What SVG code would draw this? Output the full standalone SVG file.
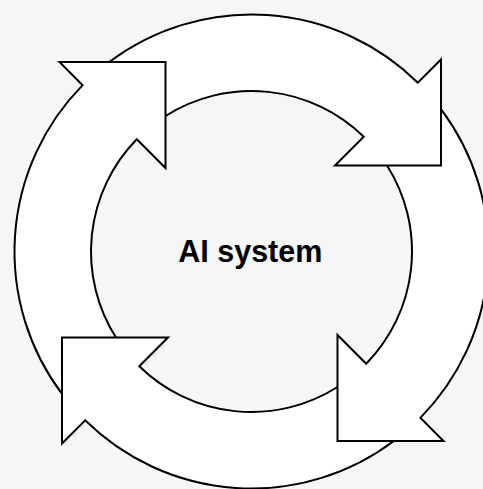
<svg xmlns="http://www.w3.org/2000/svg" width="483" height="489" viewBox="0 0 483 489">
  <style>
    .bg { fill: #f6f6f6; }
    .ring { fill: #ffffff; fill-rule: evenodd; stroke: none; }
    .head { fill: #ffffff; stroke: none; }
    .outline { fill: none; stroke: #000000; stroke-width: 2; stroke-linejoin: miter; }
    .label { font-family: "Liberation Sans", Arial, Helvetica, sans-serif; font-weight: bold; font-size: 30.5px; fill: #000000; }
  </style>
  <rect class="bg" x="0" y="0" width="483" height="489"/>
  <g id="ring-fill">
    <path class="ring" d="M14.5,251.5 A237,237 0 1 0 488.5,251.5 A237,237 0 1 0 14.5,251.5 Z M91,251.5 A160.5,160.5 0 1 0 412,251.5 A160.5,160.5 0 1 0 91,251.5 Z"/>
  </g>
  <g id="connectors">
    <g id="arrow-top-left">
      <path class="head" d="M82.67,85.17 L59.5,62 L165.5,62 L165.5,168 L136.77,139.27 Z"/>
      <path class="outline" d="M62,393.83 A237,237 0 0 1 82.67,85.17 L59.5,62 L165.5,62 L165.5,168 L136.77,139.27 A160.5,160.5 0 0 0 115.98,337.5"/>
    </g>
    <g id="arrow-top-right">
      <path class="head" d="M417.83,82.67 L441,59.5 L441,165.5 L335,165.5 L363.73,136.77 Z"/>
      <path class="outline" d="M109.17,62 A237,237 0 0 1 417.83,82.67 L441,59.5 L441,165.5 L335,165.5 L363.73,136.77 A160.5,160.5 0 0 0 165.5,115.98"/>
    </g>
    <g id="arrow-bottom-right">
      <path class="head" d="M420.33,417.83 L443.5,441 L337.5,441 L337.5,335 L366.23,363.73 Z"/>
      <path class="outline" d="M441,109.17 A237,237 0 0 1 420.33,417.83 L443.5,441 L337.5,441 L337.5,335 L366.23,363.73 A160.5,160.5 0 0 0 387.02,165.5"/>
    </g>
    <g id="arrow-bottom-left">
      <path class="head" d="M85.17,420.33 L62,443.5 L62,337.5 L168,337.5 L139.27,366.23 Z"/>
      <path class="outline" d="M393.83,441 A237,237 0 0 1 85.17,420.33 L62,443.5 L62,337.5 L168,337.5 L139.27,366.23 A160.5,160.5 0 0 0 337.5,387.02"/>
    </g>
  </g>
  <g id="node-ai-system">
    <text class="label" x="250.3" y="262.3" text-anchor="middle">AI system</text>
  </g>
</svg>
